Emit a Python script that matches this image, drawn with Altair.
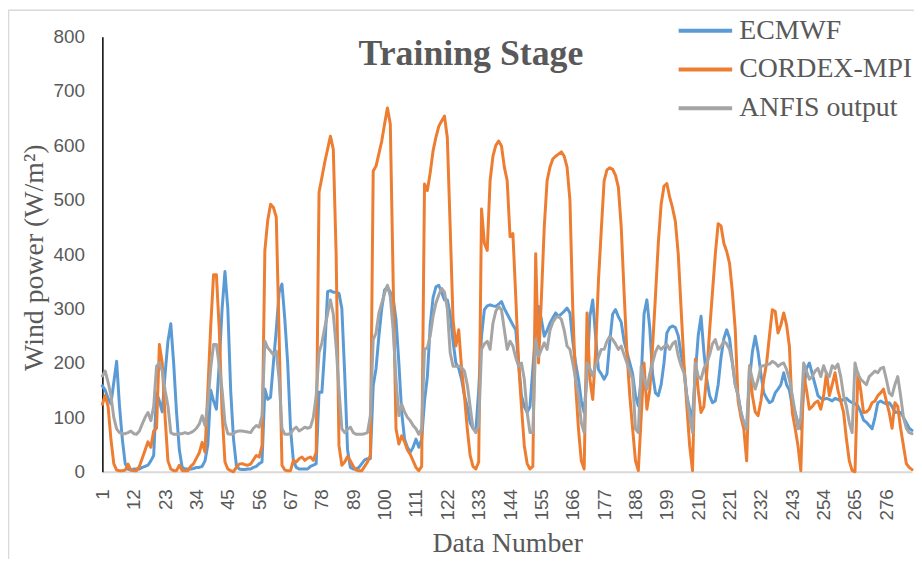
import altair as alt
import pandas as pd

# ---------------- data ----------------
data_number = list(range(1, 286))

ecmwf = [
    158, 150, 135, 125, 164, 203, 121, 60, 15, 5,
    3, 5, 5, 5, 8, 10, 12, 20, 30, 145,
    130, 110, 180, 240, 272, 200, 110, 40, 8, 5,
    5, 5, 6, 8, 8, 10, 20, 50, 150, 130,
    115, 200, 300, 368, 300, 150, 60, 12, 5, 4,
    4, 5, 5, 8, 10, 15, 18, 152, 133, 137,
    200, 261, 330, 345, 280, 200, 79, 20, 8, 5,
    5, 5, 5, 10, 12, 15, 146, 146, 225, 331,
    333, 330, 330, 328, 300, 180, 40, 8, 5, 5,
    8, 15, 22, 24, 24, 158, 190, 250, 300, 334,
    340, 330, 318, 280, 200, 109, 60, 45, 36, 45,
    60, 45, 60, 130, 175, 270, 320, 340, 343, 330,
    316, 316, 290, 240, 200, 190, 170, 140, 120, 90,
    80, 75, 150, 250, 298, 305, 307, 305, 304, 308,
    313, 300, 290, 280, 270, 261, 200, 140, 120, 109,
    120, 190, 260, 304, 280, 249, 260, 273, 283, 292,
    286, 290, 295, 301, 292, 240, 200, 170, 130, 109,
    180, 286, 316, 250, 188, 180, 170, 180, 240, 290,
    298, 285, 275, 240, 220, 200, 180, 140, 121, 170,
    290, 316, 265, 180, 145, 140, 160, 200, 255, 265,
    268, 265, 250, 215, 190, 140, 115, 100, 180, 250,
    286, 220, 170, 140, 127, 130, 160, 210, 245, 261,
    245, 200, 160, 140, 109, 90, 79, 170, 220, 249,
    220, 180, 145, 135, 127, 130, 145, 152, 160, 182,
    160, 150, 120, 109, 90, 79, 150, 190, 200, 180,
    160, 140, 135, 133, 135, 133, 130, 135, 133, 130,
    133, 135, 130, 127, 125, 121, 110, 95, 91, 85,
    79, 100, 127, 130, 127, 125, 127, 120, 109, 110,
    109, 100, 90, 80, 76,
]

cordex = [
    124, 140, 120, 60, 15, 3, 2, 2, 3, 14,
    3, 2, 2, 10, 25, 40, 55, 45, 75, 80,
    234, 200, 100, 20, 5, 2, 2, 12, 2, 2,
    2, 10, 15, 25, 35, 54, 36, 150, 267, 362,
    362, 261, 109, 18, 5, 2, 0, 8, 14, 15,
    13, 12, 14, 22, 30, 27, 48, 407, 462, 492,
    486, 468, 250, 12, 3, 2, 2, 21, 18, 24,
    27, 21, 25, 27, 21, 36, 514, 541, 569, 593,
    617, 593, 400, 48, 12, 18, 28, 20, 10, 3,
    2, 2, 10, 18, 30, 553, 562, 585, 608, 640,
    669, 639, 350, 79, 51, 66, 55, 40, 32, 20,
    8, 2, 10, 529, 517, 550, 590, 615, 635, 645,
    654, 614, 450, 280, 231, 261, 190, 140, 79, 30,
    10, 5, 18, 483, 420, 407, 535, 580, 600, 608,
    599, 560, 535, 432, 438, 322, 200, 120, 48, 15,
    5, 10, 401, 200, 320, 450, 535, 560, 575, 580,
    584, 588, 580, 560, 500, 300, 160, 79, 20, 5,
    292, 170, 133, 220, 350, 444, 535, 555, 559, 556,
    545, 523, 450, 330, 220, 140, 79, 20, 2, 100,
    200, 115, 150, 230, 322, 420, 492, 525, 530, 505,
    485, 460, 400, 300, 200, 121, 48, 2, 207, 150,
    109, 120, 180, 260, 330, 400, 456, 452, 420, 405,
    383, 330, 261, 130, 100, 79, 20, 195, 140, 110,
    103, 130, 170, 200, 250, 298, 295, 255, 270, 292,
    270, 230, 109, 80, 48, 2, 180, 150, 115, 120,
    127, 130, 115, 140, 182, 140, 160, 182, 150, 130,
    109, 60, 20, 2, 0, 182, 150, 109, 110, 115,
    127, 130, 140, 145, 152, 130, 109, 80, 127, 120,
    80, 48, 15, 8, 4,
]

anfis = [
    176, 185, 165, 140, 100, 79, 72, 70, 70, 72,
    75, 70, 69, 75, 88, 100, 109, 94, 120, 194,
    200, 185, 150, 121, 72, 69, 69, 70, 70, 72,
    70, 72, 75, 80, 88, 103, 85, 125, 190, 234,
    234, 195, 150, 90, 70, 69, 70, 74, 75, 75,
    74, 73, 72, 80, 85, 82, 103, 240, 228, 222,
    215, 222, 170, 79, 69, 69, 70, 78, 82, 75,
    78, 82, 80, 82, 100, 140, 219, 237, 265, 290,
    316, 290, 230, 150, 79, 72, 78, 82, 72, 69,
    69, 69, 70, 72, 103, 243, 255, 292, 310, 328,
    343, 322, 261, 170, 103, 124, 110, 100, 94, 85,
    79, 69, 79, 225, 228, 250, 286, 310, 325, 337,
    330, 300, 219, 194, 194, 194, 192, 185, 160, 120,
    80, 72, 85, 225, 235, 240, 225, 273, 295, 304,
    298, 261, 225, 240, 231, 210, 194, 200, 170, 109,
    72, 72, 243, 212, 225, 237, 225, 260, 275, 283,
    286, 280, 260, 231, 225, 200, 170, 140, 90, 72,
    200, 190, 176, 195, 210, 225, 225, 240, 249, 243,
    235, 225, 231, 215, 200, 185, 170, 79, 72, 194,
    170, 152, 180, 200, 220, 231, 225, 230, 234, 225,
    235, 240, 213, 195, 182, 140, 100, 72, 200, 175,
    170, 190, 200, 215, 235, 243, 225, 230, 240, 235,
    225, 200, 160, 140, 109, 90, 79, 194, 170, 152,
    170, 194, 195, 197, 198, 203, 200, 194, 198, 200,
    188, 170, 140, 110, 79, 100, 200, 185, 170, 175,
    185, 190, 175, 195, 180, 175, 195, 190, 198, 175,
    140, 120, 90, 72, 200, 180, 170, 165, 160, 175,
    180, 185, 182, 190, 192, 170, 145, 140, 160, 175,
    140, 100, 80, 72, 70,
]

series_names = ["ECMWF", "CORDEX-MPI", "ANFIS output"]
series_colors = ["#5B9BD5", "#ED7D31", "#A5A5A5"]
x_tick_values = [1, 12, 23, 34, 45, 56, 67, 78, 89, 100, 111, 122, 133,
                 144, 155, 166, 177, 188, 199, 210, 221, 232, 243, 254, 265, 276]
y_tick_values = [0, 100, 200, 300, 400, 500, 600, 700, 800]
chart_title = "Training Stage"
x_title = "Data Number"
y_title = "Wind power (W/m\u00b2)"

rows = []
for k, (name, vals) in enumerate(zip(series_names, [ecmwf, cordex, anfis])):
    for n, v in zip(data_number, vals):
        rows.append({"n": n, "series": name, "value": v, "k": k})
df = pd.DataFrame(rows)

W, H = 815, 438
TXT = "#595959"
SERIF = "Liberation Serif"
SANS = "Liberation Sans"

lines = alt.Chart(df).mark_line(strokeWidth=3, strokeJoin="round", strokeCap="round").encode(
    x=alt.X("n:Q",
            scale=alt.Scale(domain=[1, 285], nice=False, zero=False),
            axis=alt.Axis(values=x_tick_values, format="d", labelAngle=-90,
                          labelPadding=17, title=x_title, titleY=72,
                          titleBaseline="middle", domainColor="#d9d9d9",
                          domainWidth=2)),
    y=alt.Y("value:Q",
            scale=alt.Scale(domain=[0, 800], nice=False),
            axis=alt.Axis(values=y_tick_values, labelPadding=18, title=y_title,
                          titleAngle=270, titleX=-68, titleY=222,
                          titleAlign="center", titleBaseline="middle",
                          domainColor="black", domainWidth=1.5)),
    color=alt.Color("series:N",
                    scale=alt.Scale(domain=series_names, range=series_colors),
                    legend=alt.Legend(title=None, orient="none", legendX=578,
                                      legendY=-25, symbolType="stroke",
                                      symbolSize=2900, symbolStrokeWidth=4,
                                      clipHeight=38, rowPadding=1, padding=0,
                                      labelOffset=5, labelFont=SERIF,
                                      labelFontSize=28, labelColor=TXT,
                                      labelLimit=0)),
    order=alt.Order("k:Q"),
)

title_df = pd.DataFrame({"t": [chart_title]})
title_mark = alt.Chart(title_df).mark_text(
    font=SERIF, fontSize=36, fontWeight="bold", color=TXT,
    align="center", baseline="alphabetic"
).encode(x=alt.value(371), y=alt.value(29), text="t:N")

border_df = pd.DataFrame({"b": [0]})
border = alt.Chart(border_df).mark_rect(
    filled=False, stroke="#d9d9d9", strokeWidth=1.5
).encode(x=alt.value(-94.5), x2=alt.value(830), y=alt.value(-26.5), y2=alt.value(570))

chart = alt.layer(border, lines, title_mark).properties(
    width=W, height=H,
    autosize=alt.AutoSizeParams(type="none"),
    padding={"left": 95, "top": 27, "right": 2, "bottom": 86},
).configure_view(stroke=None).configure_axis(
    grid=False, ticks=False,
    labelFont=SANS, labelFontSize=19, labelColor=TXT,
    titleFont=SERIF, titleFontSize=28, titleColor=TXT, titleFontWeight="normal",
)

chart.save("out.html", embed_options={"renderer": "svg", "actions": False})
